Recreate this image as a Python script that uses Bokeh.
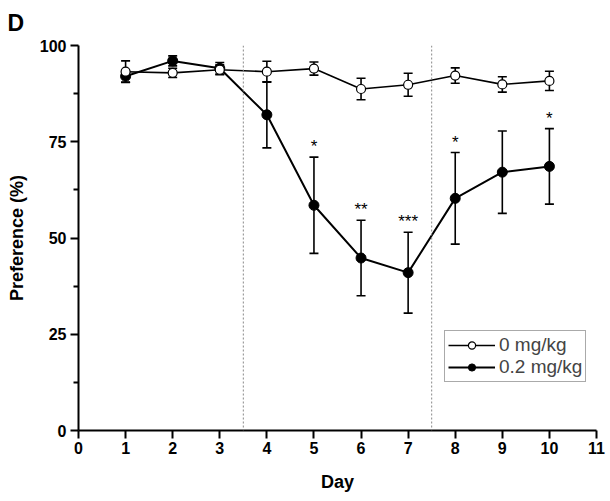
from bokeh.plotting import figure
from bokeh.models import (ColumnDataSource, Whisker, TeeHead, Span, Legend, LegendItem,
                          FixedTicker)
from bokeh.core.properties import value
from bokeh.embed import file_html
from bokeh.resources import INLINE

days = [1, 2, 3, 4, 5, 6, 7, 8, 9, 10]
ctrl_mean = [93.2, 92.9, 93.7, 93.2, 94.0, 88.7, 89.8, 92.2, 89.9, 90.8]
ctrl_sem = [2.8, 1.2, 1.3, 2.7, 1.7, 2.8, 3.0, 2.0, 2.0, 2.5]
drug_mean = [92.0, 96.0, 94.1, 82.0, 58.5, 44.8, 41.0, 60.3, 67.1, 68.6]
drug_sem = [1.5, 1.3, 1.5, 8.6, 12.5, 9.8, 10.5, 11.9, 10.7, 9.8]
star_days = [5, 6, 7, 8, 10]
star_text = ["*", "**", "***", "*", "*"]
x_ticks = list(range(0, 12))
y_ticks = [0, 25, 50, 75, 100]
y_minor = [12.5, 37.5, 62.5, 87.5]
phase_bounds = [3.5, 7.5]

FONT = "Liberation Sans"

ctrl = ColumnDataSource(dict(x=days, y=ctrl_mean,
                             up=[m + s for m, s in zip(ctrl_mean, ctrl_sem)],
                             lo=[m - s for m, s in zip(ctrl_mean, ctrl_sem)]))
drug = ColumnDataSource(dict(x=days, y=drug_mean,
                             up=[m + s for m, s in zip(drug_mean, drug_sem)],
                             lo=[m - s for m, s in zip(drug_mean, drug_sem)]))
idx = [days.index(d) for d in star_days]
stars = ColumnDataSource(dict(x=star_days, t=star_text,
                              y=[drug_mean[i] + drug_sem[i] + 2.7 for i in idx]))

p = figure(width=608, height=496, x_range=(0, 11), y_range=(0, 100),
           output_backend="svg", toolbar_location=None,
           min_border_left=78, min_border_right=12, min_border_top=45, min_border_bottom=66)
p.grid.visible = False
p.outline_line_color = None
p.background_fill_color = "white"

p.title.text = "D"
p.title.align = "left"
p.title.vertical_align = "top"
p.title.offset = -71
p.title.standoff = 16
p.title.text_font = FONT
p.title.text_font_style = "bold"
p.title.text_font_size = "23px"
p.title.text_color = "black"

for b in phase_bounds:
    p.add_layout(Span(location=b, dimension="height", line_color="#888888",
                      line_width=1, line_dash="2 2"))

# drug series
dl = p.line("x", "y", source=drug, line_color="black", line_width=2)
p.add_layout(Whisker(source=drug, base="x", upper="up", lower="lo", line_width=1.6,
                     line_color="black",
                     upper_head=TeeHead(size=9, line_width=1.6, line_color="black"),
                     lower_head=TeeHead(size=9, line_width=1.6, line_color="black")))
ds = p.scatter("x", "y", source=drug, size=10, fill_color="black", line_color="black")

# control series
cl = p.line("x", "y", source=ctrl, line_color="black", line_width=1.6)
p.add_layout(Whisker(source=ctrl, base="x", upper="up", lower="lo", line_width=1.6,
                     line_color="black",
                     upper_head=TeeHead(size=9, line_width=1.6, line_color="black"),
                     lower_head=TeeHead(size=9, line_width=1.6, line_color="black")))
cs = p.scatter("x", "y", source=ctrl, size=9, fill_color="white", line_color="black",
               line_width=1.2)

p.text("x", "y", text="t", source=stars, text_align="center", text_baseline="middle",
       text_font=value(FONT), text_font_size="17px", text_color="black")

# axes
p.xaxis.ticker = FixedTicker(ticks=x_ticks)
p.yaxis.ticker = FixedTicker(ticks=y_ticks, minor_ticks=y_minor)
for ax in (p.xaxis[0], p.yaxis[0]):
    ax.axis_line_width = 2
    ax.axis_line_color = "black"
    ax.major_tick_line_width = 2
    ax.major_tick_line_color = "black"
    ax.major_tick_out = 8
    ax.major_tick_in = 0
    ax.minor_tick_line_width = 2
    ax.minor_tick_line_color = "black"
    ax.minor_tick_out = 5
    ax.minor_tick_in = 0
    ax.major_label_text_font = FONT
    ax.major_label_text_font_style = "bold"
    ax.major_label_text_font_size = "16px"
    ax.major_label_text_color = "black"
    ax.major_label_standoff = 4
    ax.axis_label_text_font = FONT
    ax.axis_label_text_font_style = "bold"
    ax.axis_label_text_font_size = "18px"
    ax.axis_label_text_color = "black"
    ax.axis_label_standoff = 10
p.xaxis.minor_tick_out = 0
p.xaxis.major_label_standoff = 3
p.xaxis.axis_label_standoff = 15
p.xaxis.axis_label = "Day"
p.yaxis.axis_label = "Preference (%)"

legend = Legend(items=[LegendItem(label="0 mg/kg", renderers=[cl, cs]),
                       LegendItem(label="0.2 mg/kg", renderers=[dl, ds])],
                location=(366, 48), margin=0, padding=3, spacing=0,
                glyph_width=47, glyph_height=18, label_height=18, label_standoff=4,
                label_text_font=FONT, label_text_font_size="19px",
                border_line_color="#555555", border_line_width=1,
                background_fill_color="white", background_fill_alpha=1)
p.add_layout(legend)

open("out.html", "w").write(file_html(p, INLINE))
